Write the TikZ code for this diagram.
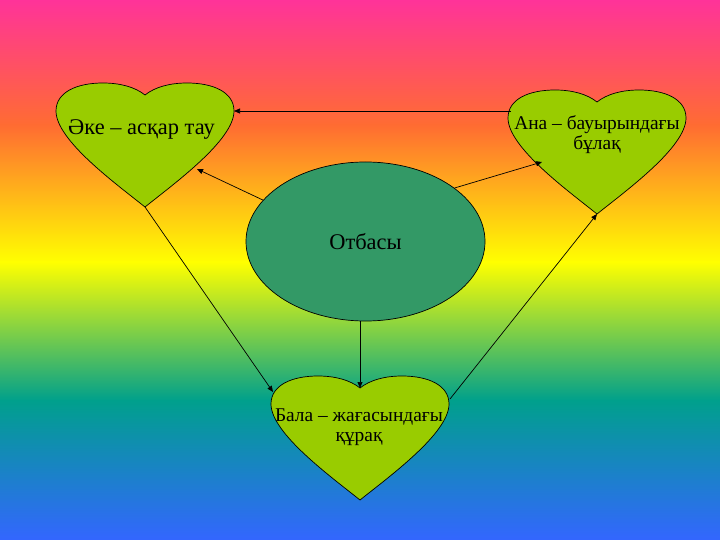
\documentclass[tikz,border=0pt]{standalone}
\usepackage{fontspec}
\setmainfont{Liberation Serif}
\usetikzlibrary{arrows.meta,shapes.geometric}
\definecolor{cpink}{RGB}{255,51,153}
\definecolor{corange}{RGB}{255,108,50}
\definecolor{cyellow}{RGB}{255,255,0}
\definecolor{cteal}{RGB}{0,160,140}
\definecolor{cblue}{RGB}{51,102,255}
\definecolor{heartgreen}{RGB}{153,204,0}
\definecolor{ovalgreen}{RGB}{51,153,102}
\tikzset{
  heartpath/.style={fill=heartgreen, draw=black, line width=0.7bp},
  conn/.style={draw=black, line width=0.7bp, -{Triangle[length=6bp,width=5bp]}},
  lbl/.style={font=\fontsize{19.5}{20}\selectfont, align=center, inner sep=0pt},
  biglbl/.style={font=\fontsize{22.5}{24}\selectfont, align=center, inner sep=0pt}
}
\newcommand\drawheart[1]{%
  \draw[heartpath, shift={(#1)}] (0,0)
    .. controls (10,-8) and (25,-12) .. (42,-12)
    .. controls (68,-12) and (89,-3) .. (89,16)
    .. controls (89,45) and (30,88) .. (0,112)
    .. controls (-30,88) and (-89,45) .. (-89,16)
    .. controls (-89,-3) and (-68,-12) .. (-42,-12)
    .. controls (-25,-12) and (-10,-8) .. (0,0) -- cycle;}
\begin{document}
\begin{tikzpicture}[x=1bp,y=-1bp]
\useasboundingbox (0,0) rectangle (720,540);
% background
\fill[top color=cpink, bottom color=corange, draw=none] (0,0) rectangle (720,125.5);
\fill[top color=corange, bottom color=cyellow, draw=none] (0,125) rectangle (720,262.5);
\fill[top color=cyellow, bottom color=cteal, draw=none] (0,262) rectangle (720,400.5);
\fill[top color=cteal, bottom color=cblue, draw=none] (0,400) rectangle (720,540);
% heart reference points
\coordinate (Lnotch) at (145,95);
\coordinate (Rnotch) at (597,102);
\coordinate (Bnotch) at (360,388);
\drawheart{Lnotch}
\drawheart{Rnotch}
\drawheart{Bnotch}
\coordinate (Ltip) at (145,207);
\coordinate (Rtip) at (597,214);
\coordinate (Lright) at (234,111);
\coordinate (Rleft) at (511,111);
\coordinate (Lside) at (197,169);
\coordinate (Rside) at (542,162);
\coordinate (Bleft) at (273,392);
\coordinate (Bright) at (450,399);
% oval
\node[ellipse, fill=ovalgreen, draw=black, line width=0.7bp,
      minimum width=239bp, minimum height=159bp, inner sep=0pt,
      font=\fontsize{22.5}{24}\selectfont] (otbasy) at (365.5,241.5) {Отбасы};
% labels
\node[biglbl] (ake) at (141.5,130) {Әке – асқар тау};
\node[lbl] (ana) at (597,135) {Ана – бауырындағы\\бұлақ};
\node[lbl] (bala) at (359,427) {Бала – жағасындағы\\құрақ};
% connectors
\draw[conn] (Rleft) -- (Lright);
\draw[conn] (otbasy.158) -- (Lside);
\draw[conn] (otbasy.31) -- (Rside);
\draw[conn] (Ltip) -- (Bleft);
\draw[conn] (otbasy.south -| Bnotch) -- (Bnotch);
\draw[conn] (Bright) -- (Rtip);
\end{tikzpicture}
\end{document}
